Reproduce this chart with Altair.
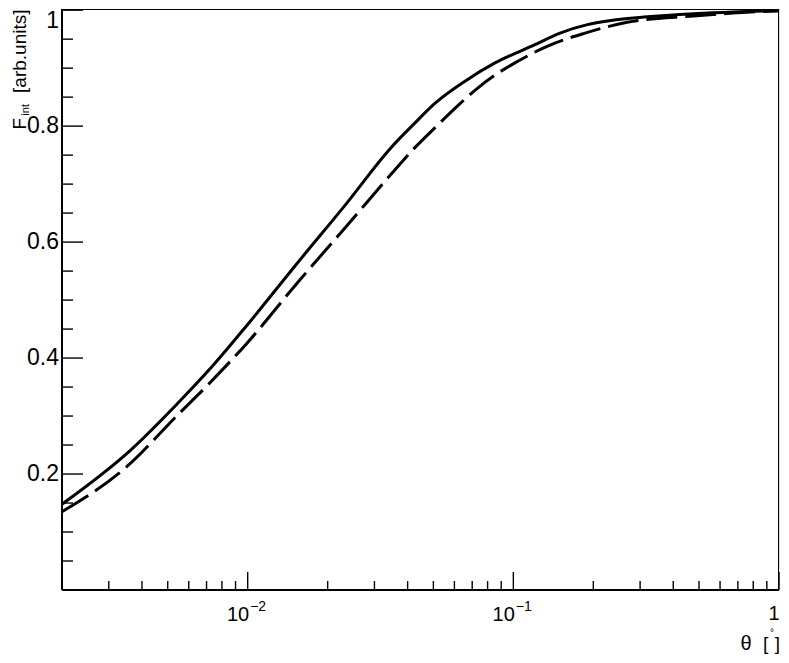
import altair as alt
import pandas as pd

# ---- data ----
theta_solid = [0.002, 0.0036, 0.0054, 0.0073, 0.010, 0.0152, 0.0234, 0.0345, 0.0421, 0.0509,
               0.0660, 0.0853, 0.120, 0.149, 0.190, 0.233, 0.310, 0.478, 0.673, 1.0]
f_solid = [0.148, 0.240, 0.320, 0.384, 0.458, 0.561, 0.665, 0.762, 0.803, 0.840,
           0.878, 0.909, 0.940, 0.960, 0.975, 0.982, 0.988, 0.994, 0.997, 0.999]

theta_dashed = [0.002, 0.00353, 0.0054, 0.0073, 0.010, 0.0152, 0.0234, 0.0345, 0.0418,
                0.0509, 0.0617, 0.0736, 0.0853, 0.1014, 0.1346, 0.185, 0.268, 0.478, 0.673, 1.0]
f_dashed = [0.135, 0.214, 0.300, 0.360, 0.427, 0.527, 0.626, 0.716, 0.759,
            0.798, 0.835, 0.866, 0.888, 0.909, 0.938, 0.960, 0.979, 0.990, 0.995, 0.999]

x_major = [0.01, 0.1, 1.0]
x_minor = [0.003, 0.004, 0.005, 0.006, 0.007, 0.008, 0.009,
           0.02, 0.03, 0.04, 0.05, 0.06, 0.07, 0.08, 0.09,
           0.2, 0.3, 0.4, 0.5, 0.6, 0.7, 0.8, 0.9]
x_pow_vals = [0.01, 0.1]
x_pow_base = ["10", "10"]
x_pow_exp = ["\u22122", "\u22121"]
x_plain_vals = [1.0]
x_plain_labels = ["1"]

y_major = [0.2, 0.4, 0.6, 0.8, 1.0]
y_labels = ["0.2", "0.4", "0.6", "0.8", "1"]
y_minor = [0.05, 0.1, 0.15, 0.25, 0.3, 0.35, 0.45, 0.5, 0.55,
           0.65, 0.7, 0.75, 0.85, 0.9, 0.95]

W, H = 717, 581
FONT = "Liberation Sans"

xscale = alt.Scale(type="log", domain=[0.002, 1.0], nice=False)
yscale = alt.Scale(domain=[0.0, 1.002], nice=False, zero=False)

solid_df = pd.DataFrame({"theta": theta_solid, "F": f_solid})
dashed_df = pd.DataFrame({"theta": theta_dashed, "F": f_dashed})

X = alt.X("theta:Q", scale=xscale, axis=None)
Y = alt.Y("F:Q", scale=yscale, axis=None)

solid = alt.Chart(solid_df).mark_line(color="black", strokeWidth=3, clip=True,
                                       interpolate="monotone").encode(x=X, y=Y)
dashed = alt.Chart(dashed_df).mark_line(color="black", strokeWidth=3, strokeDash=[31, 8],
                                         clip=True, interpolate="monotone").encode(x=X, y=Y)

# frame
frame_left = alt.Chart().mark_rule(color="black", strokeWidth=2).encode(
    x=alt.value(0), y=alt.value(0), y2=alt.value(H))
frame_bottom = alt.Chart().mark_rule(color="black", strokeWidth=2).encode(
    x=alt.value(0), x2=alt.value(W), y=alt.value(H))
frame_top = alt.Chart().mark_rule(color="black", strokeWidth=1).encode(
    x=alt.value(0), x2=alt.value(W), y=alt.value(0.5))
frame_right = alt.Chart().mark_rule(color="black", strokeWidth=1).encode(
    x=alt.value(W - 0.5), y=alt.value(0), y2=alt.value(H))

# ticks
xmaj_df = pd.DataFrame({"v": x_major})
xmin_df = pd.DataFrame({"v": x_minor})
ymaj_df = pd.DataFrame({"v": y_major[:-1], "lab": y_labels[:-1]})
ytop_df = pd.DataFrame({"v": y_major[-1:], "lab": y_labels[-1:]})
ymajt_df = pd.DataFrame({"v": y_major})
ymin_df = pd.DataFrame({"v": y_minor})

XV = alt.X("v:Q", scale=xscale, axis=None)
YV = alt.Y("v:Q", scale=yscale, axis=None)

xmaj_ticks = alt.Chart(xmaj_df).mark_rule(color="black", strokeWidth=1.4).encode(
    x=XV, y=alt.value(H), y2=alt.value(H - 18))
xmin_ticks = alt.Chart(xmin_df).mark_rule(color="black", strokeWidth=1.4).encode(
    x=XV, y=alt.value(H), y2=alt.value(H - 9))
ymaj_ticks = alt.Chart(ymajt_df).mark_rule(color="black", strokeWidth=1.4).encode(
    y=YV, x=alt.value(0), x2=alt.value(21))
ymin_ticks = alt.Chart(ymin_df).mark_rule(color="black", strokeWidth=1.4).encode(
    y=YV, x=alt.value(0), x2=alt.value(11))

# tick labels
ylab = alt.Chart(ymaj_df).mark_text(font=FONT, fontSize=23, align="right", baseline="middle",
                                    color="black").encode(
    y=YV, x=alt.value(-3), text="lab:N")
ylab_top = alt.Chart(ytop_df).mark_text(font=FONT, fontSize=23, align="right", baseline="top",
                                        color="black").encode(
    y=alt.value(1), x=alt.value(-3), text="lab:N")

xpow_df = pd.DataFrame({"v": x_pow_vals, "base": x_pow_base, "exp": x_pow_exp})
xbase = alt.Chart(xpow_df).mark_text(font=FONT, fontSize=20, align="right", baseline="alphabetic",
                                     dx=1.5, color="black").encode(
    x=XV, y=alt.value(612), text="base:N")
xexp = alt.Chart(xpow_df).mark_text(font=FONT, fontSize=14, align="left", baseline="alphabetic",
                                    dx=2.5, color="black").encode(
    x=XV, y=alt.value(602), text="exp:N")
xplain_df = pd.DataFrame({"v": x_plain_vals, "lab": x_plain_labels})
xplain = alt.Chart(xplain_df).mark_text(font=FONT, fontSize=20, align="right", baseline="alphabetic",
                                        dx=0.5, color="black").encode(
    x=XV, y=alt.value(611), text="lab:N")

# axis titles
def txt(s, x, y, size, align="left", baseline="alphabetic", angle=0):
    kw = dict(font=FONT, fontSize=size, align=align, baseline=baseline, color="black", text=s)
    if angle:
        kw["angle"] = angle
    return alt.Chart().mark_text(**kw).encode(x=alt.value(x), y=alt.value(y))

xt_theta = txt("\u03b8", 684, 641, 20, align="center")
xt_lb = txt("[", 701, 641, 19, align="left")
xt_rb = txt("]", 718, 641, 19, align="right")
xt_deg = txt("\u00b0", 710, 627, 10, align="center")

yt_units = txt("[arb.units]", -36, 0.5, 19, align="right", angle=270)
yt_int = txt("int", -33, 95, 11, align="right", angle=270)
yt_F = txt("F", -36, 109, 19, align="right", angle=270)

chart = alt.layer(
    xmin_ticks, xmaj_ticks, ymin_ticks, ymaj_ticks,
    frame_left, frame_bottom, frame_top, frame_right,
    solid, dashed,
    ylab, ylab_top, xbase, xexp, xplain,
    xt_theta, xt_lb, xt_rb, xt_deg,
    yt_units, yt_int, yt_F,
).properties(
    width=W, height=H,
    autosize=alt.AutoSizeParams(type="none"),
    padding={"left": 54, "top": 1, "right": 2, "bottom": 65},
).configure_view(stroke=None).configure(background="white")

chart.save("out.html", embed_options={"renderer": "svg", "actions": False})
